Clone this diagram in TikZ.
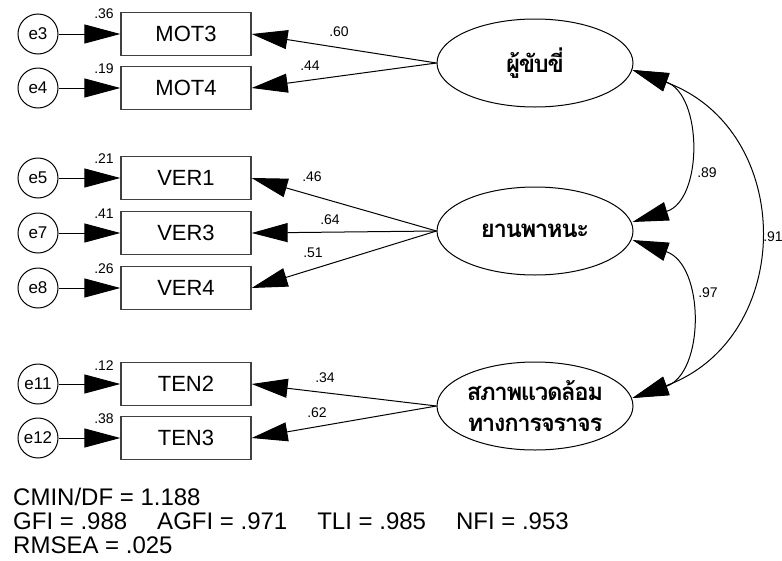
\documentclass[tikz,border=0pt]{standalone}
\usepackage{fontspec}
\setmainfont{Liberation Sans}
\newfontfamily\thaifont[Script=Thai,LetterSpace=-6]{Loma}
\usetikzlibrary{arrows.meta,calc,shapes.geometric}
\begin{document}
\begin{tikzpicture}[x=1pt,y=-1pt,
  obs/.style={draw=black!75,line width=1.3pt,minimum width=130pt,minimum height=43pt,inner sep=0pt,font=\fontsize{22}{24}\selectfont},
  err/.style={circle,draw,line width=1pt,minimum size=40pt,inner sep=0pt,font=\fontsize{17}{18}\selectfont},
  lat/.style={ellipse,draw,line width=1pt,minimum width=196pt,minimum height=88pt,inner sep=0pt,font=\thaifont\bfseries\fontsize{24}{31}\selectfont,align=center},
  arr/.style={-{Triangle[length=36pt,width=19pt]},line width=1pt},
  cov/.style={{Triangle[length=36pt,width=19pt]}-{Triangle[length=36pt,width=19pt]},line width=1pt},
  lbl/.style={font=\fontsize{14}{15}\selectfont,inner sep=0pt},
  fit/.style={font=\fontsize{24}{26}\selectfont,inner sep=0pt,anchor=west}]
\useasboundingbox (0,0) rectangle (782,560);
% observed variables
\node[obs] (MOT3) at (186,34) {MOT3};
\node[obs] (MOT4) at (186,88) {MOT4};
\node[obs] (VER1) at (186,178) {VER1};
\node[obs] (VER3) at (186,233) {VER3};
\node[obs] (VER4) at (186,288) {VER4};
\node[obs] (TEN2) at (186,384) {TEN2};
\node[obs] (TEN3) at (186,438) {TEN3};
% errors
\node[err] (e3) at (38,34) {e3};
\node[err] (e4) at (38,88) {e4};
\node[err] (e5) at (38,178) {e5};
\node[err] (e7) at (38,233) {e7};
\node[err] (e8) at (38,288) {e8};
\node[err] (e11) at (38,384) {e11};
\node[err] (e12) at (38,438) {e12};
% latent
\node[lat] (F1) at (535,63) {ผู้ขับขี่};
\node[lat] (F2) at (535,231) {ยานพาหนะ};
\node[lat] (F3) at (535,406) {สภาพแวดล้อม\\ทางการจราจร};
% error arrows
\foreach \e/\o in {e3/MOT3,e4/MOT4,e5/VER1,e7/VER3,e8/VER4,e11/TEN2,e12/TEN3}
  \draw[arr] (\e) -- (\o);
% loadings
\foreach \f/\o in {F1/MOT3,F1/MOT4,F2/VER1,F2/VER3,F2/VER4,F3/TEN2,F3/TEN3}
  \draw[arr] (\f.west) -- (\o.east);
% covariance ends
\coordinate (t1) at ($(F1.east)+(-1,7)$);
\coordinate (t2a) at ($(F2.east)+(-1,-9)$);
\coordinate (t2b) at ($(F2.east)+(-1,9)$);
\coordinate (t3) at ($(F3.east)+(-1,-8)$);
\draw[cov] (t1) .. controls (703,95) and (703,200) .. (t2a);
\draw[cov] (t2b) .. controls (705,265) and (705,373) .. (t3);
\draw[cov] (t1) .. controls (796,130) and (796,338) .. (t3);
% squared multiple correlations
\node[lbl] at (104,14) {.36};
\node[lbl] at (104,69) {.19};
\node[lbl] at (104,159) {.21};
\node[lbl] at (104,214) {.41};
\node[lbl] at (104,269) {.26};
\node[lbl] at (104,366) {.12};
\node[lbl] at (104,419) {.38};
% loadings labels
\node[lbl] at (339,32) {.60};
\node[lbl] at (310,66) {.44};
\node[lbl] at (312,177) {.46};
\node[lbl] at (330,220) {.64};
\node[lbl] at (313,253) {.51};
\node[lbl] at (325,378) {.34};
\node[lbl] at (317,413) {.62};
% correlations
\node[lbl] at (707,173) {.89};
\node[lbl] at (708,293) {.97};
\node[lbl] at (773,237) {.91};
% fit indices
\node[fit] at (13,497) {CMIN/DF = 1.188};
\node[fit] at (13,521) {GFI = .988\hspace{30pt}AGFI = .971\hspace{30pt}TLI = .985\hspace{30pt}NFI = .953};
\node[fit] at (13,545) {RMSEA = .025};
\end{tikzpicture}
\end{document}
